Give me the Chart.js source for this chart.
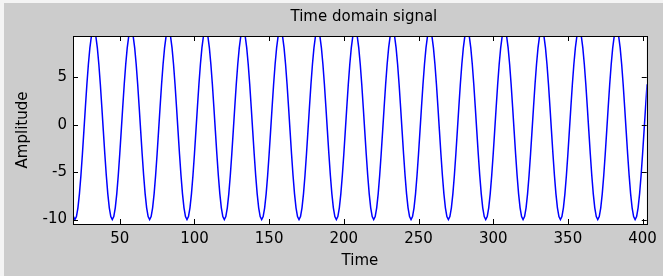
<!DOCTYPE html>
<html>
<head>
<meta charset="utf-8">
<script src="https://cdn.jsdelivr.net/npm/chart.js@4/dist/chart.umd.min.js"></script>
<style>
  html, body { margin: 0; padding: 0; background: #cccccc; }
  canvas { display: block; }
</style>
</head>
<body>
<canvas id="chart" width="663" height="276"></canvas>
<script>
// samples start at t = 18, one sample per time unit
var firstSample = 18;
var amplitude = [
  -8.76, -9.69, -10, -9.69, -8.76, -7.29, -5.36, -3.09, -0.63, 1.87, 4.26, 6.37, 8.09, 9.30, 9.92, 9.92, 9.30, 8.09, 6.37, 4.26, 1.87, -0.63, -3.09, -5.36, -7.29,
  -8.76, -9.69, -10, -9.69, -8.76, -7.29, -5.36, -3.09, -0.63, 1.87, 4.26, 6.37, 8.09, 9.30, 9.92, 9.92, 9.30, 8.09, 6.37, 4.26, 1.87, -0.63, -3.09, -5.36, -7.29,
  -8.76, -9.69, -10, -9.69, -8.76, -7.29, -5.36, -3.09, -0.63, 1.87, 4.26, 6.37, 8.09, 9.30, 9.92, 9.92, 9.30, 8.09, 6.37, 4.26, 1.87, -0.63, -3.09, -5.36, -7.29,
  -8.76, -9.69, -10, -9.69, -8.76, -7.29, -5.36, -3.09, -0.63, 1.87, 4.26, 6.37, 8.09, 9.30, 9.92, 9.92, 9.30, 8.09, 6.37, 4.26, 1.87, -0.63, -3.09, -5.36, -7.29,
  -8.76, -9.69, -10, -9.69, -8.76, -7.29, -5.36, -3.09, -0.63, 1.87, 4.26, 6.37, 8.09, 9.30, 9.92, 9.92, 9.30, 8.09, 6.37, 4.26, 1.87, -0.63, -3.09, -5.36, -7.29,
  -8.76, -9.69, -10, -9.69, -8.76, -7.29, -5.36, -3.09, -0.63, 1.87, 4.26, 6.37, 8.09, 9.30, 9.92, 9.92, 9.30, 8.09, 6.37, 4.26, 1.87, -0.63, -3.09, -5.36, -7.29,
  -8.76, -9.69, -10, -9.69, -8.76, -7.29, -5.36, -3.09, -0.63, 1.87, 4.26, 6.37, 8.09, 9.30, 9.92, 9.92, 9.30, 8.09, 6.37, 4.26, 1.87, -0.63, -3.09, -5.36, -7.29,
  -8.76, -9.69, -10, -9.69, -8.76, -7.29, -5.36, -3.09, -0.63, 1.87, 4.26, 6.37, 8.09, 9.30, 9.92, 9.92, 9.30, 8.09, 6.37, 4.26, 1.87, -0.63, -3.09, -5.36, -7.29,
  -8.76, -9.69, -10, -9.69, -8.76, -7.29, -5.36, -3.09, -0.63, 1.87, 4.26, 6.37, 8.09, 9.30, 9.92, 9.92, 9.30, 8.09, 6.37, 4.26, 1.87, -0.63, -3.09, -5.36, -7.29,
  -8.76, -9.69, -10, -9.69, -8.76, -7.29, -5.36, -3.09, -0.63, 1.87, 4.26, 6.37, 8.09, 9.30, 9.92, 9.92, 9.30, 8.09, 6.37, 4.26, 1.87, -0.63, -3.09, -5.36, -7.29,
  -8.76, -9.69, -10, -9.69, -8.76, -7.29, -5.36, -3.09, -0.63, 1.87, 4.26, 6.37, 8.09, 9.30, 9.92, 9.92, 9.30, 8.09, 6.37, 4.26, 1.87, -0.63, -3.09, -5.36, -7.29,
  -8.76, -9.69, -10, -9.69, -8.76, -7.29, -5.36, -3.09, -0.63, 1.87, 4.26, 6.37, 8.09, 9.30, 9.92, 9.92, 9.30, 8.09, 6.37, 4.26, 1.87, -0.63, -3.09, -5.36, -7.29,
  -8.76, -9.69, -10, -9.69, -8.76, -7.29, -5.36, -3.09, -0.63, 1.87, 4.26, 6.37, 8.09, 9.30, 9.92, 9.92, 9.30, 8.09, 6.37, 4.26, 1.87, -0.63, -3.09, -5.36, -7.29,
  -8.76, -9.69, -10, -9.69, -8.76, -7.29, -5.36, -3.09, -0.63, 1.87, 4.26, 6.37, 8.09, 9.30, 9.92, 9.92, 9.30, 8.09, 6.37, 4.26, 1.87, -0.63, -3.09, -5.36, -7.29,
  -8.76, -9.69, -10, -9.69, -8.76, -7.29, -5.36, -3.09, -0.63, 1.87, 4.26, 6.37, 8.09, 9.30, 9.92, 9.92, 9.30, 8.09, 6.37, 4.26, 1.87, -0.63, -3.09, -5.36, -7.29,
  -8.76, -9.69, -10, -9.69, -8.76, -7.29, -5.36, -3.09, -0.63, 1.87, 4.26
];
var xTicks = [50, 100, 150, 200, 250, 300, 350, 400];
var yTicks = [-10, -5, 0, 5];
var xRange = [18.7, 402.8];
var yRange = [-10.47, 9.35];
var titleText = 'Time domain signal';

var points = amplitude.map(function (v, i) { return { x: firstSample + i, y: v }; });

var FONT = 'DejaVu Sans';

// MATLAB-style frame: gray figure, white axes, box with inward ticks on all sides
var matlabFrame = {
  id: 'matlabFrame',
  beforeDraw: function (chart) {
    var ctx = chart.ctx, a = chart.chartArea;
    ctx.save();
    ctx.fillStyle = '#cccccc';
    ctx.fillRect(0, 0, chart.width, chart.height);
    ctx.fillStyle = '#f4f4f4';
    ctx.fillRect(0, 0, chart.width, 3);
    ctx.fillRect(0, 0, 4, chart.height);
    ctx.fillStyle = '#ffffff';
    ctx.fillRect(a.left, a.top, a.right - a.left, a.bottom - a.top);
    ctx.restore();
  },
  afterDatasetsDraw: function (chart) {
    var ctx = chart.ctx, a = chart.chartArea;
    var xs = chart.scales.x, ys = chart.scales.y, len = 5;
    ctx.save();
    ctx.strokeStyle = '#000000';
    ctx.lineWidth = 1;
    ctx.beginPath();
    xs.ticks.forEach(function (t) {
      var px = Math.round(xs.getPixelForValue(t.value)) + 0.5;
      ctx.moveTo(px, a.bottom); ctx.lineTo(px, a.bottom - len);
      ctx.moveTo(px, a.top); ctx.lineTo(px, a.top + len);
    });
    ys.ticks.forEach(function (t) {
      var py = Math.round(ys.getPixelForValue(t.value)) + 0.5;
      ctx.moveTo(a.left, py); ctx.lineTo(a.left + len, py);
      ctx.moveTo(a.right, py); ctx.lineTo(a.right - len, py);
    });
    ctx.stroke();
    ctx.strokeRect(Math.round(a.left) + 0.5, Math.round(a.top) + 0.5,
      Math.round(a.right - a.left), Math.round(a.bottom - a.top));

    // title centred over the axes box
    ctx.fillStyle = '#000000';
    ctx.font = '15px "' + FONT + '"';
    ctx.textAlign = 'center';
    ctx.textBaseline = 'middle';
    ctx.fillText(titleText, (a.left + a.right) / 2 + 4, 17);
    ctx.restore();
  }
};

new Chart(document.getElementById('chart').getContext('2d'), {
  type: 'line',
  data: {
    datasets: [{
      data: points,
      borderColor: '#0000ff',
      borderWidth: 1.5,
      pointRadius: 0,
      tension: 0,
      fill: false,
      clip: 0
    }]
  },
  options: {
    responsive: false,
    animation: false,
    devicePixelRatio: 1,
    layout: { padding: { left: 0, right: 14.5, top: 36, bottom: 0 } },
    plugins: {
      legend: { display: false },
      tooltip: { enabled: false },
      title: { display: false }
    },
    scales: {
      x: {
        type: 'linear',
        min: xRange[0],
        max: xRange[1],
        afterBuildTicks: function (s) { s.ticks = xTicks.map(function (v) { return { value: v }; }); },
        afterFit: function (s) { s.height = 52; },
        grid: { display: false, drawTicks: false },
        border: { display: false },
        ticks: {
          color: '#000000',
          padding: 6,
          maxRotation: 0,
          autoSkip: false,
          font: { family: FONT, size: 15 },
          callback: function (v) { return String(v); }
        },
        title: {
          display: true,
          text: 'Time',
          color: '#000000',
          font: { family: FONT, size: 15 },
          padding: { top: 0, bottom: 5.5 }
        }
      },
      y: {
        type: 'linear',
        min: yRange[0],
        max: yRange[1],
        afterBuildTicks: function (s) { s.ticks = yTicks.map(function (v) { return { value: v }; }); },
        afterFit: function (s) { s.width = 73; },
        grid: { display: false, drawTicks: false },
        border: { display: false },
        ticks: {
          color: '#000000',
          padding: 6,
          autoSkip: false,
          font: { family: FONT, size: 15 },
          callback: function (v) { return String(v); }
        },
        title: {
          display: true,
          text: 'Amplitude',
          color: '#000000',
          font: { family: FONT, size: 15 },
          padding: { top: 14, bottom: 0 }
        }
      }
    }
  },
  plugins: [matlabFrame]
});
</script>
</body>
</html>
